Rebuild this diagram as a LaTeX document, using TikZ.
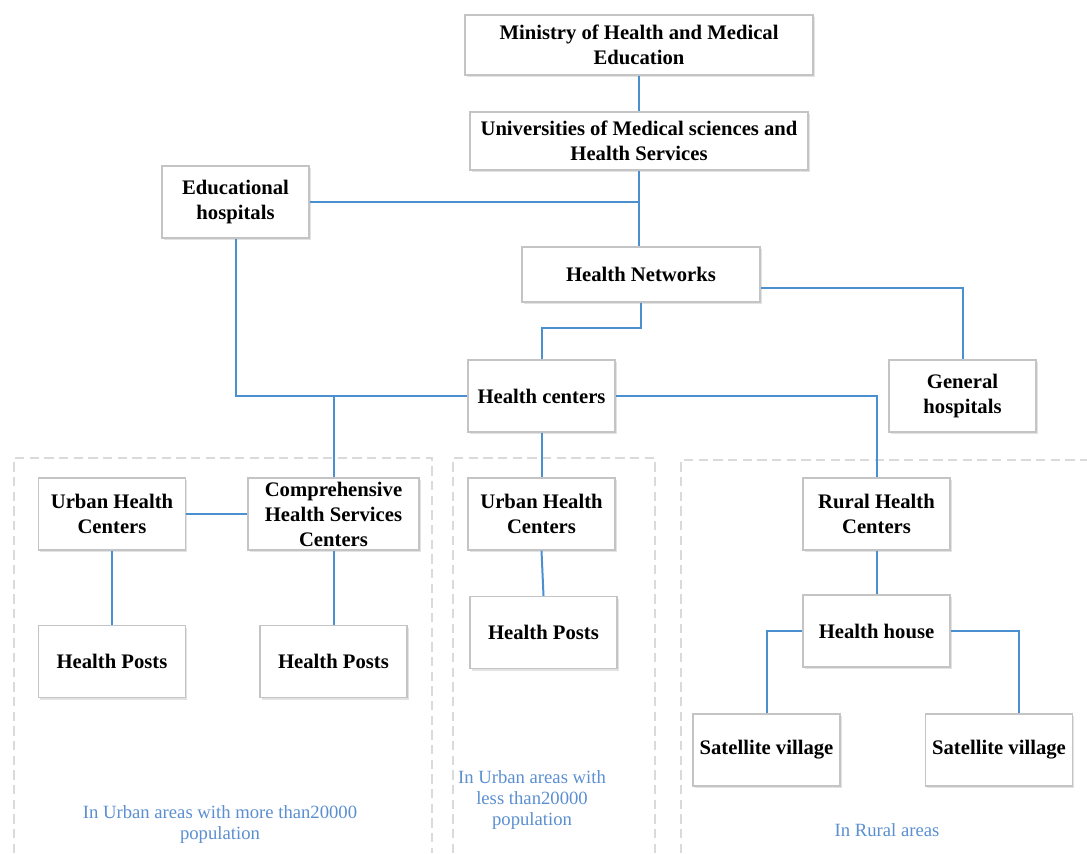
\documentclass[tikz,border=0pt]{standalone}
\usepackage{fontspec}
\setmainfont{Liberation Serif}
\usetikzlibrary{shadows,calc}
\definecolor{lineblue}{HTML}{4A8FCF}
\definecolor{labelblue}{HTML}{5B8FD0}
\definecolor{boxgray}{HTML}{C4C4C4}
\definecolor{dashgray}{HTML}{DADADA}
\begin{document}
\begin{tikzpicture}[x=0.75pt,y=-0.75pt,
  box/.style={draw=boxgray, fill=white, line width=0.9pt, align=center,
    font=\fontsize{15.5}{18.75}\selectfont\bfseries, inner sep=0pt,
    minimum width=110.25pt, minimum height=54pt,
    drop shadow={shadow xshift=1.2pt, shadow yshift=-1.5pt, opacity=0.22, fill=gray}},
  conn/.style={draw=lineblue, line width=1.5pt},
  region/.style={draw=dashgray, line width=1.4pt, dash pattern=on 7pt off 4pt},
  area/.style={text=labelblue, align=center, font=\fontsize{14}{15.75}\selectfont, inner sep=0pt}]
\useasboundingbox (0,0) rectangle (1087,853);

% dashed regions
\draw[region] (14,853) -- (14,458) -- (432,458) -- (432,853);
\draw[region] (453,853) -- (453,458) -- (655,458) -- (655,853);
\draw[region] (681,853) -- (681,460) -- (1087,460);

% nodes
\node[box, minimum width=261pt, minimum height=45pt] (min) at (639,45) {Ministry of Health and Medical\\Education};
\node[box, minimum width=253.5pt, minimum height=43.5pt] (uni) at (639,141) {Universities of Medical sciences and\\Health Services};
\node[box] (edu) at (235.5,202) {Educational\\hospitals};
\node[box, minimum width=178.5pt, minimum height=41.25pt] (hn) at (641,274.5) {Health Networks};
\node[box] (hc) at (541.5,396) {Health centers};
\node[box] (gh) at (962.5,396) {General\\hospitals};
\node[box] (uhc1) at (112,514) {Urban Health\\Centers};
\node[box, minimum width=128.25pt] (comp) at (333.5,514) {Comprehensive\\Health Services\\Centers};
\node[box] (uhc2) at (541.5,514) {Urban Health\\Centers};
\node[box] (rhc) at (876.5,514) {Rural Health\\Centers};
\node[box] (hp1) at (112,661.5) {Health Posts};
\node[box] (hp2) at (333.5,661.5) {Health Posts};
\node[box] (hp3) at (543.5,632.5) {Health Posts};
\node[box] (hh) at (876.5,631) {Health house};
\node[box] (sv1) at (766.5,750) {Satellite village};
\node[box] (sv2) at (999,750) {Satellite village};

% area labels
\node[area] (a1) at (220,824) {In Urban areas with more than20000\\population};
\node[area] (a2) at (532,800) {In Urban areas with\\less than20000\\population};
\node[area] (a3) at (887,830) {In Rural areas};

% connectors
\draw[conn] (min.south) -- (uni.north);
\draw[conn] (uni.south) -- (uni.south |- hn.north);
\draw[conn] (edu.east) -- (edu.east -| uni.south);
\draw[conn] (edu.south) |- (hc.west);
\draw[conn] (comp.north) -- (comp.north |- hc.west);
\draw[conn] (hn.south) -- ++(0,25) -| (hc.north);
\draw[conn] ([yshift=-10pt]hn.east) -| (gh.north);
\draw[conn] (hc.east) -| (rhc.north);
\draw[conn] (hc.south) -- (uhc2.north);
\draw[conn] (uhc1.east) -- (comp.west);
\draw[conn] (uhc1.south) -- (hp1.north);
\draw[conn] (comp.south) -- (hp2.north);
\draw[conn] (uhc2.south) -- (hp3.north);
\draw[conn] (rhc.south) -- (hh.north);
\draw[conn] (hh.west) -| (sv1.north);
\draw[conn] (hh.east) -| ([xshift=15pt]sv2.north);
\end{tikzpicture}
\end{document}
